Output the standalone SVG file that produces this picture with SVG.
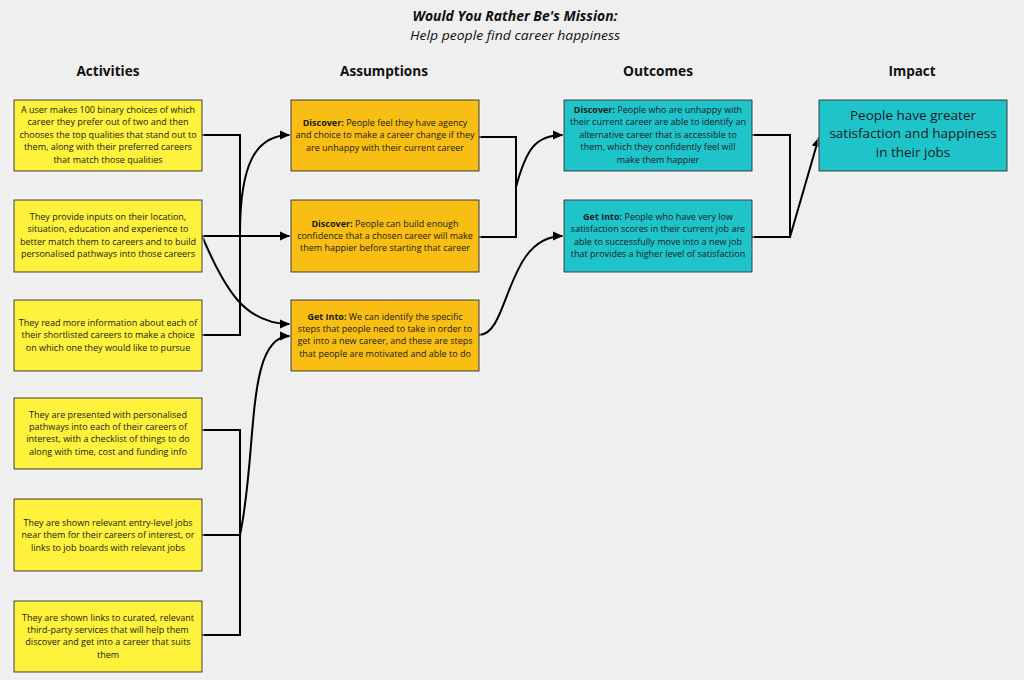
<svg xmlns="http://www.w3.org/2000/svg" width="1024" height="680" viewBox="0 0 1024 680">
<style>
  .bg{fill:#efefef}
  .box{stroke:#3a3a3a;stroke-width:1}
  .halo{fill:none;stroke:#ffffff;stroke-width:1;opacity:0.8}
  .act{fill:#fef23c}
  .asm{fill:#f8be14}
  .out{fill:#1fc4cb}
  .t{font-family:"Open Sans","Noto Sans","Liberation Sans",sans-serif;font-size:9px;fill:#1a1a1a;text-anchor:middle}
  .b{font-weight:bold}
  .imp{font-family:"Open Sans","Noto Sans","Liberation Sans",sans-serif;font-size:13.5px;fill:#1a1a1a;text-anchor:middle}
  .h{font-family:"Open Sans","Noto Sans","Liberation Sans",sans-serif;font-size:14px;font-weight:bold;fill:#111;text-anchor:middle}
  .title{font-family:"Open Sans","Noto Sans","Liberation Sans",sans-serif;font-size:13.5px;font-weight:bold;font-style:italic;fill:#111;text-anchor:middle}
  .sub{font-family:"Open Sans","Noto Sans","Liberation Sans",sans-serif;font-size:13.5px;font-style:italic;fill:#111;text-anchor:middle}
  .ln{fill:none;stroke:#000;stroke-width:2}
  .ar{fill:none;stroke:#000;stroke-width:2;marker-end:url(#arrow)}
</style>
<defs>
  <marker id="arrow" markerUnits="userSpaceOnUse" markerWidth="11" markerHeight="10" refX="10" refY="5" orient="auto">
    <path d="M0,0.5 L10,5 L0,9.5 z" fill="#000"/>
  </marker>
</defs>
<rect class="bg" x="0" y="0" width="1024" height="680"/>

<g id="title">
  <text class="title" x="515" y="21" textLength="205" lengthAdjust="spacingAndGlyphs">Would You Rather Be's Mission:</text>
  <text class="sub" x="515" y="40" textLength="210" lengthAdjust="spacingAndGlyphs">Help people find career happiness</text>
</g>

<g id="headers">
  <text class="h" x="108" y="76" textLength="63" lengthAdjust="spacingAndGlyphs">Activities</text>
  <text class="h" x="384" y="76" textLength="88" lengthAdjust="spacingAndGlyphs">Assumptions</text>
  <text class="h" x="658" y="76" textLength="70" lengthAdjust="spacingAndGlyphs">Outcomes</text>
  <text class="h" x="912" y="76" textLength="47" lengthAdjust="spacingAndGlyphs">Impact</text>
</g>

<g id="connectors">
  <path class="ln" d="M202,135 H240 V335 H202"/>
  <path class="ar" d="M240,234 C240,165 255,135 290,135"/>
  <path class="ar" d="M202,236 H290"/>
  <path class="ar" d="M202,236 C225,290 245,324 290,324"/>
  <path class="ln" d="M202,430 H240 V635 H202 M202,535 H240"/>
  <path class="ar" d="M240,535 C258,450 245,336 290,336"/>
  <path class="ln" d="M479,137 H516 V237 H479"/>
  <path class="ar" d="M516,187 C526,150 535,135 563,135"/>
  <path class="ar" d="M479,335 C510,335 505,236 563,236"/>
  <path class="ln" d="M752,135 H790 V237 H752"/>
  <path class="ar" d="M790,237 L819,137"/>
</g>

<g id="act1">
  <rect class="halo" x="13" y="99" width="190" height="73"/>
  <rect class="box act" x="14" y="100" width="188" height="71"/>
  <text class="t" y="113"><tspan x="108">A user makes 100 binary choices of which</tspan><tspan x="108" dy="12.4">career they prefer out of two and then</tspan><tspan x="108" dy="12.4">chooses the top qualities that stand out to</tspan><tspan x="108" dy="12.4">them, along with their preferred careers</tspan><tspan x="108" dy="12.4">that match those qualities</tspan></text>
</g>
<g id="act2">
  <rect class="halo" x="13" y="199" width="190" height="74"/>
  <rect class="box act" x="14" y="200" width="188" height="72"/>
  <text class="t" y="220"><tspan x="108">They provide inputs on their location,</tspan><tspan x="108" dy="12.4">situation, education and experience to</tspan><tspan x="108" dy="12.4">better match them to careers and to build</tspan><tspan x="108" dy="12.4">personalised pathways into those careers</tspan></text>
</g>
<g id="act3">
  <rect class="halo" x="13" y="299" width="190" height="73"/>
  <rect class="box act" x="14" y="300" width="188" height="71"/>
  <text class="t" y="326"><tspan x="108">They read more information about each of</tspan><tspan x="108" dy="12.4">their shortlisted careers to make a choice</tspan><tspan x="108" dy="12.4">on which one they would like to pursue</tspan></text>
</g>
<g id="act4">
  <rect class="halo" x="13" y="397" width="190" height="73"/>
  <rect class="box act" x="14" y="398" width="188" height="71"/>
  <text class="t" y="417.5"><tspan x="108">They are presented with personalised</tspan><tspan x="108" dy="12.4">pathways into each of their careers of</tspan><tspan x="108" dy="12.4">interest, with a checklist of things to do</tspan><tspan x="108" dy="12.4">along with time, cost and funding info</tspan></text>
</g>
<g id="act5">
  <rect class="halo" x="13" y="498" width="190" height="74"/>
  <rect class="box act" x="14" y="499" width="188" height="72"/>
  <text class="t" y="526"><tspan x="108">They are shown relevant entry-level jobs</tspan><tspan x="108" dy="12.4">near them for their careers of interest, or</tspan><tspan x="108" dy="12.4">links to job boards with relevant jobs</tspan></text>
</g>
<g id="act6">
  <rect class="halo" x="13" y="600" width="190" height="73"/>
  <rect class="box act" x="14" y="601" width="188" height="71"/>
  <text class="t" y="620.5"><tspan x="108">They are shown links to curated, relevant</tspan><tspan x="108" dy="12.4">third-party services that will help them</tspan><tspan x="108" dy="12.4">discover and get into a career that suits</tspan><tspan x="108" dy="12.4">them</tspan></text>
</g>

<g id="asm1">
  <rect class="halo" x="290" y="99" width="190" height="73"/>
  <rect class="box asm" x="291" y="100" width="188" height="71"/>
  <text class="t" y="126"><tspan x="385"><tspan class="b">Discover:</tspan> People feel they have agency</tspan><tspan x="385" dy="12.4">and choice to make a career change if they</tspan><tspan x="385" dy="12.4">are unhappy with their current career</tspan></text>
</g>
<g id="asm2">
  <rect class="halo" x="290" y="199" width="190" height="74"/>
  <rect class="box asm" x="291" y="200" width="188" height="72"/>
  <text class="t" y="226.5"><tspan x="385"><tspan class="b">Discover:</tspan> People can build enough</tspan><tspan x="385" dy="12.4">confidence that a chosen career will make</tspan><tspan x="385" dy="12.4">them happier before starting that career</tspan></text>
</g>
<g id="asm3">
  <rect class="halo" x="290" y="299" width="190" height="73"/>
  <rect class="box asm" x="291" y="300" width="188" height="71"/>
  <text class="t" y="319.5"><tspan x="385"><tspan class="b">Get Into:</tspan> We can identify the specific</tspan><tspan x="385" dy="12.4">steps that people need to take in order to</tspan><tspan x="385" dy="12.4">get into a new career, and these are steps</tspan><tspan x="385" dy="12.4">that people are motivated and able to do</tspan></text>
</g>

<g id="out1">
  <rect class="halo" x="563" y="99" width="190" height="73"/>
  <rect class="box out" x="564" y="100" width="188" height="71"/>
  <text class="t" y="113"><tspan x="658"><tspan class="b">Discover:</tspan> People who are unhappy with</tspan><tspan x="658" dy="12.4">their current career are able to identify an</tspan><tspan x="658" dy="12.4">alternative career that is accessible to</tspan><tspan x="658" dy="12.4">them, which they confidently feel will</tspan><tspan x="658" dy="12.4">make them happier</tspan></text>
</g>
<g id="out2">
  <rect class="halo" x="563" y="199" width="190" height="74"/>
  <rect class="box out" x="564" y="200" width="188" height="72"/>
  <text class="t" y="220"><tspan x="658"><tspan class="b">Get Into:</tspan> People who have very low</tspan><tspan x="658" dy="12.4">satisfaction scores in their current job are</tspan><tspan x="658" dy="12.4">able to successfully move into a new job</tspan><tspan x="658" dy="12.4">that provides a higher level of satisfaction</tspan></text>
</g>

<g id="impact">
  <rect class="halo" x="818" y="99" width="190" height="73"/>
  <rect class="box out" x="819" y="100" width="188" height="71"/>
  <text class="imp" y="120"><tspan x="913">People have greater</tspan><tspan x="913" dy="18.4">satisfaction and happiness</tspan><tspan x="913" dy="18.4">in their jobs</tspan></text>
</g>
</svg>
